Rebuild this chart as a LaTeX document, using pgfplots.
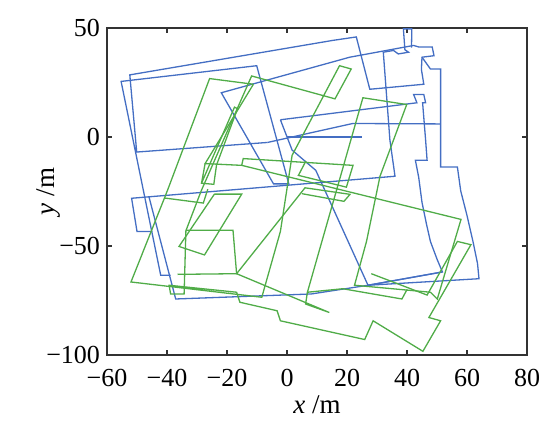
\documentclass[border=0pt]{standalone}
\usepackage{fontspec}
\setmainfont{Liberation Serif}
\usepackage{pgfplots}
\pgfplotsset{compat=1.18}
\definecolor{tb}{RGB}{68,110,195}
\definecolor{tg}{RGB}{80,172,72}
\begin{document}
\begin{tikzpicture}
\begin{axis}[
 width=210pt, height=163.5pt, scale only axis,
 xmin=-60,xmax=80,ymin=-100,ymax=50,
 xtick={-60,-40,-20,0,20,40,60,80}, ytick={-100,-50,0,50},
 xticklabels={−60,−40,−20,0,20,40,60,80},
 yticklabels={−100,−50,0,50},
 tick align=inside, major tick length=2.5pt,
 ticklabel style={font=\fontsize{13}{14}\selectfont},
 xticklabel style={anchor=center, yshift=-11.5pt},
 xlabel={\textit{x} /m}, ylabel={\textit{y} /m},
 label style={font=\fontsize{13.5}{14}\selectfont},
 xlabel style={at={(axis description cs:0.5,0)}, anchor=center, yshift=-25pt},
 ylabel style={at={(axis description cs:0,0.5)}, anchor=center, yshift=29pt},
 axis line style={line width=0.7pt, black!80},
 every tick/.style={black!80, line width=0.6pt},
 every axis plot/.append style={line width=0.65pt},
]
% blue trajectory
\addplot[tb] coordinates {(0,0) (25,0)};
\addplot[tb] coordinates {(-6.5,-2.5) (-50.1,-6.9) (-52.4,28.5) (15.2,44.3) (23.1,45.9) (27.6,21.9) (45.6,24.2) (44.8,31) (45,36.6) (49,37.3) (48.4,41.3) (43.9,41.3) (42.2,42) (20.9,36.6) (-21.9,20.3) (-4.5,-21.5) (0.6,-21.5) (-10.1,32.7) (-55.3,25.5) (-42.1,-63.4) (-38.8,-63.4)};
\addplot[tb] coordinates {(41.5,41) (41.6,49.6) (38.8,49.6) (39.3,40) (40.5,38.9) (37.1,38.1) (35.5,39.7) (32.1,38.9) (34.3,-1.4) (36,-18) (-51.8,-28.1) (-50,-43.3) (-44.9,-43.3)};
\addplot[tb] coordinates {(-6.5,-2.5) (21.9,6.2) (51.2,6)};
\addplot[tb] coordinates {(45,36.6) (47.8,31.2) (51.2,31.2) (51.2,-13.8) (56.8,-13.8) (57.9,-24.7) (60,-36) (62,-48) (63.5,-58) (64,-65) (27,-68)};
\addplot[tb] coordinates {(-2.2,7.9) (43.3,15.7) (42.2,19.5) (45.6,19.5) (46.2,15.7) (45.2,15.7) (46.2,-1.4) (46.7,-10.7) (42.8,-10.7) (43.9,-18.5) (45,-30) (46.5,-40) (47.8,-47.9) (50,-56) (51.8,-61.9) (27,-68) (9.6,-15.3) (1.7,-6) (-2.2,7.9)};
\addplot[tb] coordinates {(-46,-27.5) (-37.1,-74.3) (8.1,-72) (27,-68) (51.8,-61.9)};
% green trajectory
\addplot[tg] coordinates {(-11.2,24.2) (-25.8,26.8) (-39.9,-24.7) (-52,-66.5) (-8.4,-73.5) (-2.2,-43.3) (1.7,-8.4) (17.5,32.7) (21.4,31.2) (16,17.5) (-11.8,28) (-28.6,-24.7) (-33.7,-43) (-34.3,-72) (-38.8,-72) (-39.3,-68) (-16.8,-71.2) (-15.7,-75.8) (-3.3,-79.7) (-2.2,-84.3) (25.9,-92.9) (28.7,-84.3) (45.3,-98.3) (51.2,-84.3) (47.3,-82.8) (61.3,-49.4) (56.8,-47.9) (46.7,-72.5) (28.1,-62.7)};
\addplot[tg] coordinates {(6.8,-71.2) (25.3,18) (39.9,14.9) (35.5,-1.4) (31,-18) (26.5,-47.9) (22.5,-68) (47.8,-71.2) (50.1,-74.3) (58,-37.8) (-15.1,-13) (-27.3,-12.2) (-11.2,24.2)};
\addplot[tg] coordinates {(-15.1,-13) (-14.6,-9.9) (22,-13) (19.8,-23) (3.8,-17.6) (6.3,-11)};
\addplot[tg] coordinates {(-27.3,-12.2) (-28.5,-21.2) (-24.4,-21.7) (-23.5,-12.9) (-16.5,13) (-17.5,13.7) (-28.5,-21.2)};
\addplot[tg] coordinates {(-40.7,-28) (-27.9,-30.3) (-26.4,-23.9)};
\addplot[tg] coordinates {(-24.2,-26.2) (-15.1,-26.2) (-27.5,-54.1) (-36,-50.2) (-24.2,-26.2)};
\addplot[tg] coordinates {(-33.7,-42.8) (-18,-42.8) (-16.8,-62.7) (-36.5,-63)};
\addplot[tg] coordinates {(5,-26) (19,-29.5) (21,-26.3) (6,-23.3) (-16.8,-62.7) (14.1,-80.5) (6.2,-76.6) (6.8,-71.2) (18.6,-69.6) (38.3,-74.3) (40,-70)};
\end{axis}
\pgfresetboundingbox
\path ([shift={(-53.5pt,-34pt)}]current axis.south west) rectangle ([shift={(11.5pt,14pt)}]current axis.north east);
\end{tikzpicture}
\end{document}
